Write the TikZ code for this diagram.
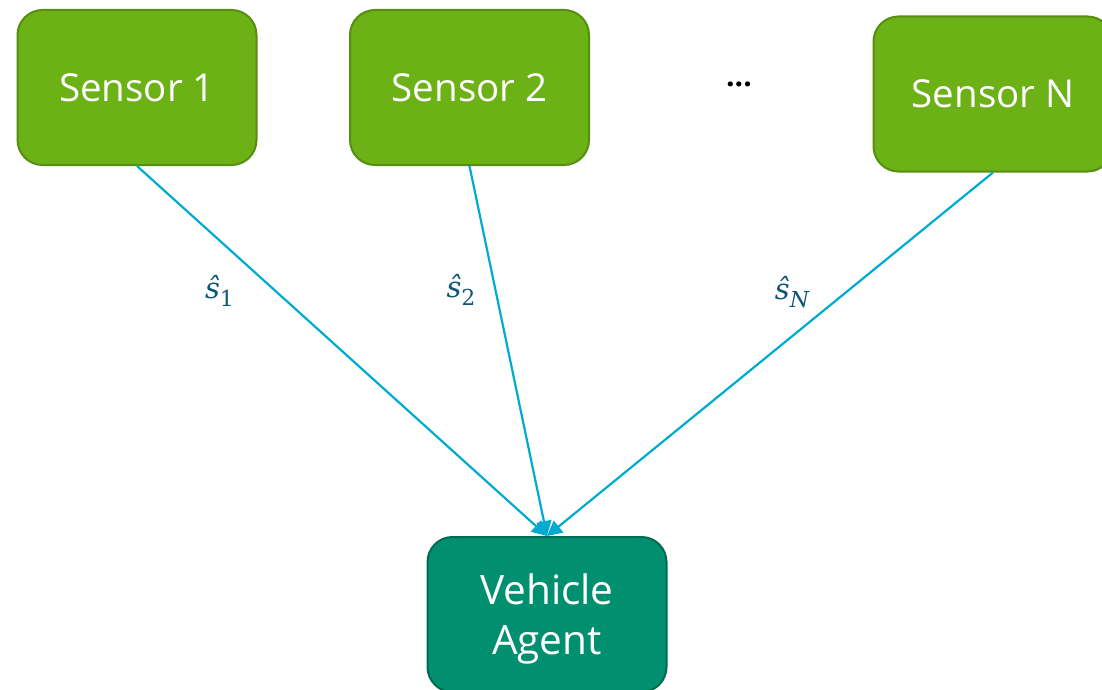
\documentclass[tikz,border=0pt]{standalone}
\usepackage{fontspec}
\setmainfont{Open Sans}
\newfontfamily\labelfont{DejaVu Serif}
\usetikzlibrary{arrows.meta}
\definecolor{sensorfill}{HTML}{6CB115}
\definecolor{sensorline}{HTML}{568E10}
\definecolor{agentfill}{HTML}{008F6F}
\definecolor{agentline}{HTML}{006B52}
\definecolor{arrowcol}{HTML}{00ABD1}
\definecolor{labelcol}{HTML}{0E5576}
\newcommand{\siglab}[2]{{\labelfont\fontsize{29}{32}\selectfont\itshape ŝ}{\labelfont\fontsize{22}{26}\selectfont\raisebox{-7.5pt}{#1#2}}}
\begin{document}
\begin{tikzpicture}[x=1pt,y=-1pt,
  sensorbox/.style={draw=sensorline, line width=2pt, fill=sensorfill, rounded corners=25pt,
    minimum width=239pt, minimum height=155pt, inner sep=0pt, text=white,
    font=\fontsize{38.5}{46}\selectfont},
  agentbox/.style={draw=agentline, line width=2pt, fill=agentfill, rounded corners=25pt,
    minimum width=239pt, minimum height=155pt, inner sep=0pt, text=white, align=center,
    font=\fontsize{40.5}{50}\selectfont},
  link/.style={draw=arrowcol, line width=2.2pt, -{Triangle[length=15pt,width=15pt]}},
  siglabel/.style={text=labelcol, inner sep=0pt}
]
\useasboundingbox (0,0) rectangle (1102,690);
\node[sensorbox] (s1) at (137,87.5) {Sensor 1};
\node[sensorbox] (s2) at (469.5,87.5) {Sensor 2};
\node[sensorbox] (sn) at (993,94) {Sensor N};
\node[font=\fontsize{30}{36}\selectfont\bfseries, inner sep=0pt] (dots) at (739,84) {...};
\node[agentbox] (v) at (547,614.5) {\rule{0pt}{40pt}Vehicle\\Agent};
\draw[link] (s1.south) -- (v.north);
\draw[link] (s2.south) -- (v.north);
\draw[link] (sn.south) -- (v.north);
\node[siglabel] (l1) at (219.5,291) {\siglab{}{1}};
\node[siglabel] (l2) at (461,290) {\siglab{}{2}};
\node[siglabel] (ln) at (792,292) {\siglab{\itshape}{N}};
\end{tikzpicture}
\end{document}
